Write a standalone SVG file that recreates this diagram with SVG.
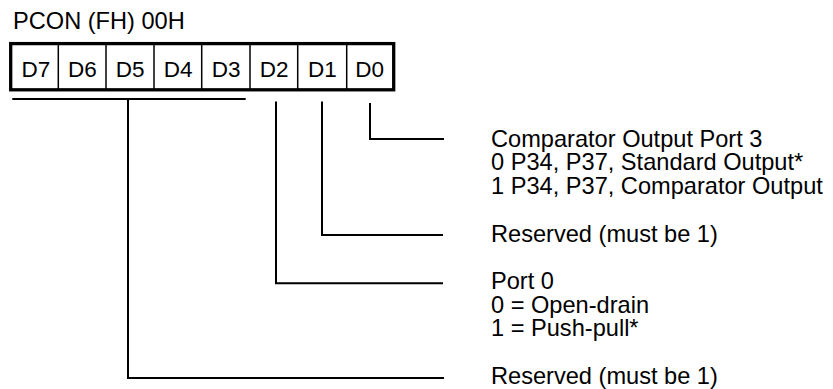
<svg xmlns="http://www.w3.org/2000/svg" width="833" height="389" viewBox="0 0 833 389">
<style>
text{font-family:"Liberation Sans",Arial,sans-serif;fill:#000}
.t{font-size:23.6px}
.c{font-size:22.5px;text-anchor:middle}
.ln{fill:none;stroke:#000;stroke-width:2}
.dv{stroke:#000;stroke-width:1.5}
</style>
<rect width="833" height="389" fill="#fff"/>
<g id="title"><text class="t" x="13" y="28.5">PCON (FH) 00H</text></g>
<g id="register">
<rect x="10.7" y="43.6" width="383" height="46.2" fill="none" stroke="#000" stroke-width="3.3"/>
<line class="dv" x1="58.3" y1="44" x2="58.3" y2="89"/>
<line class="dv" x1="106" y1="44" x2="106" y2="89"/>
<line class="dv" x1="154" y1="44" x2="154" y2="89"/>
<line class="dv" x1="201.7" y1="44" x2="201.7" y2="89"/>
<line class="dv" x1="250" y1="44" x2="250" y2="89"/>
<line class="dv" x1="297.7" y1="44" x2="297.7" y2="89"/>
<line class="dv" x1="346.7" y1="44" x2="346.7" y2="89"/>
<text class="c" x="35.8" y="77">D7</text>
<text class="c" x="82.4" y="77">D6</text>
<text class="c" x="130.2" y="77">D5</text>
<text class="c" x="178.1" y="77">D4</text>
<text class="c" x="226.1" y="77">D3</text>
<text class="c" x="274.1" y="77">D2</text>
<text class="c" x="322.4" y="77">D1</text>
<text class="c" x="369.7" y="77">D0</text>
</g>
<g id="connectors">
<path class="ln" d="M12.3 99H245.7"/>
<path class="ln" d="M128 99V378H444"/>
<path class="ln" d="M276 101.5V283.3H443"/>
<path class="ln" d="M322 101.5V235H443"/>
<path class="ln" d="M370 103V139H444"/>
</g>
<g id="d0-label">
<text class="t" x="491" y="146.5">Comparator Output Port 3</text>
<text class="t" x="491" y="170">0 P34, P37, Standard Output*</text>
<text class="t" x="491" y="193.5">1 P34, P37, Comparator Output</text>
</g>
<g id="d1-label"><text class="t" x="491" y="242">Reserved (must be 1)</text></g>
<g id="d2-label">
<text class="t" x="491" y="289">Port 0</text>
<text class="t" x="491" y="312.5">0 = Open-drain</text>
<text class="t" x="491" y="336">1 = Push-pull*</text>
</g>
<g id="d7-d3-label"><text class="t" x="491" y="384">Reserved (must be 1)</text></g>
</svg>
